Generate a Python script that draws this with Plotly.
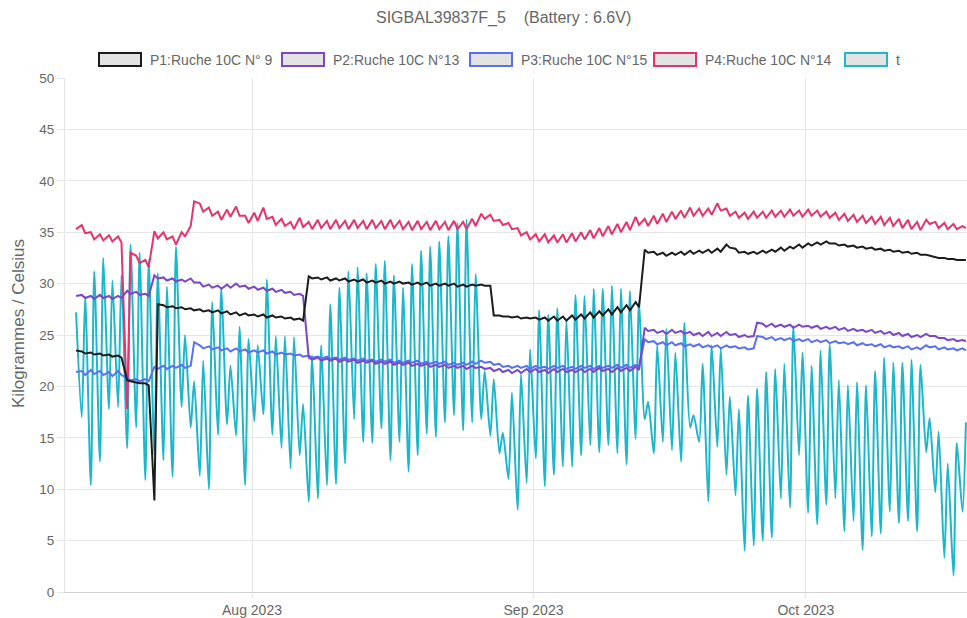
import plotly.graph_objects as go
from datetime import datetime, timedelta

# ---------------- data ----------------
TITLE = "SIGBAL39837F_5\u00a0\u00a0\u00a0\u00a0(Battery : 6.6V)"
Y_TITLE = "Kilogrammes / Celsius"
SERIES_NAMES = ["P1:Ruche 10C N° 9", "P2:Ruche 10C N°13", "P3:Ruche 10C N°15", "P4:Ruche 10C N°14", "t"]
X_TICK_DATES = ["2023-08-01", "2023-09-01", "2023-10-01"]
X_TICK_TEXT = ["Aug 2023", "Sep 2023", "Oct 2023"]
START_DAY = "2023-07-12"   # first day of data; two readings a day (06:00, 15:00)

# temperature: afternoon maxima (day 0..98) and morning minima (day 1..98)
T_MAX = [27.2, 28.7, 31.2, 32.5, 30.3, 30.8, 33.8, 33.0, 32.3, 31.0,
         29.7, 33.6, 25.0, 20.5, 22.5, 28.2, 29.6, 22.0, 25.8, 24.6,
         24.0, 30.4, 24.9, 24.9, 24.8, 18.3, 23.0, 24.0, 28.0, 29.6,
         31.2, 31.6, 31.0, 31.9, 32.2, 30.8, 29.6, 31.9, 33.2, 33.6,
         34.1, 34.6, 35.9, 36.2, 30.9, 21.5, 20.7, 15.5, 19.4, 21.2,
         23.6, 27.4, 27.0, 27.6, 26.5, 28.9, 28.8, 29.5, 29.5, 29.8,
         29.5, 29.3, 28.3, 18.5, 24.0, 25.6, 23.3, 26.2, 17.2, 22.2,
         24.0, 23.7, 19.0, 17.8, 19.1, 19.8, 21.4, 21.7, 22.2, 25.9,
         23.3, 22.0, 23.5, 24.1, 20.6, 20.1, 20.4, 20.1, 21.5, 22.8,
         22.3, 22.3, 22.6, 22.1, 16.9, 15.6, 12.5, 14.5, 16.5]
T_MIN = [17.0, 10.4, 12.7, 17.8, 18.0, 14.0, 16.0, 10.9, 13.3, 12.8,
         11.2, 18.0, 16.0, 11.3, 10.0, 15.3, 16.3, 15.2, 10.4, 16.6,
         17.3, 15.3, 14.0, 12.0, 13.3, 8.8, 9.1, 10.4, 10.5, 12.5,
         16.8, 14.6, 14.5, 15.9, 12.8, 14.6, 11.7, 13.3, 15.4, 15.1,
         16.5, 17.2, 15.7, 16.5, 16.8, 15.2, 13.5, 11.0, 8.0, 10.6,
         13.0, 10.3, 11.4, 12.2, 12.2, 13.3, 14.3, 13.6, 14.3, 13.5,
         12.4, 14.9, 16.8, 13.5, 14.6, 13.8, 12.7, 16.0, 14.6, 8.8,
         14.1, 11.4, 9.4, 4.0, 4.5, 5.0, 5.3, 9.1, 8.2, 13.3,
         7.7, 6.6, 8.5, 9.1, 5.9, 6.9, 4.1, 5.4, 5.7, 7.8,
         6.7, 6.9, 5.9, 13.6, 9.7, 3.3, 1.6, 7.8]

# hive weights: day 0 afternoon, then (morning, afternoon) for days 1..98
P1 = [23.5,
      23.4, 23.2, 23.3, 23.1, 23.2, 23.0, 23.1, 22.9, 23.0, 22.8,
      20.6, 20.5, 20.4, 20.3, 20.3, 20.1, 8.9, 28.0, 27.9, 27.7,
      27.8, 27.6, 27.7, 27.5, 27.6, 27.4, 27.5, 27.3, 27.4, 27.2,
      27.4, 27.1, 27.3, 27.0, 27.2, 26.9, 27.1, 26.9, 27.0, 26.8,
      27.0, 26.7, 26.9, 26.7, 26.8, 26.6, 26.7, 26.5, 26.6, 26.4,
      30.7, 30.5, 30.6, 30.4, 30.6, 30.3, 30.5, 30.3, 30.5, 30.2,
      30.4, 30.2, 30.4, 30.1, 30.3, 30.1, 30.3, 30.0, 30.2, 30.0,
      30.2, 30.0, 30.1, 29.9, 30.1, 29.9, 30.1, 29.8, 30.0, 29.8,
      30.0, 29.8, 30.0, 29.7, 29.9, 29.7, 29.9, 29.8, 29.9, 29.8,
      29.8, 26.9, 26.9, 26.8, 26.8, 26.7, 26.8, 26.6, 26.7, 26.6,
      26.7, 26.5, 26.7, 26.4, 26.8, 26.4, 26.8, 26.4, 26.9, 26.5,
      27.0, 26.6, 27.2, 26.7, 27.3, 26.9, 27.5, 27.0, 27.7, 27.2,
      27.9, 27.4, 28.2, 27.7, 33.3, 33.0, 33.1, 32.8, 33.0, 32.7,
      33.0, 32.8, 33.1, 32.8, 33.2, 32.9, 33.2, 33.0, 33.3, 33.0,
      33.4, 33.1, 33.8, 33.5, 33.4, 33.0, 33.1, 32.9, 33.1, 32.9,
      33.2, 33.0, 33.3, 33.1, 33.5, 33.2, 33.6, 33.4, 33.8, 33.5,
      33.9, 33.7, 34.0, 33.8, 34.1, 33.9, 33.9, 33.7, 33.8, 33.6,
      33.7, 33.5, 33.6, 33.4, 33.5, 33.3, 33.4, 33.2, 33.3, 33.1,
      33.2, 33.0, 33.1, 32.9, 33.0, 32.8, 32.8, 32.7, 32.6, 32.5,
      32.5, 32.4, 32.4, 32.3, 32.3, 32.3]
P2 = [28.8,
      28.9, 28.6, 28.8, 28.5, 28.9, 28.6, 28.8, 28.5, 28.8, 28.6,
      29.3, 29.0, 29.2, 28.9, 29.0, 28.8, 30.8, 30.5, 30.6, 30.3,
      30.5, 30.2, 30.4, 30.2, 30.5, 30.1, 30.1, 29.7, 29.9, 29.6,
      29.8, 29.5, 29.9, 29.6, 30.0, 29.7, 29.8, 29.5, 29.7, 29.4,
      29.6, 29.3, 29.5, 29.2, 29.4, 29.1, 29.2, 28.9, 29.0, 28.8,
      22.8, 22.6, 22.8, 22.5, 22.7, 22.5, 22.7, 22.4, 22.6, 22.4,
      22.6, 22.3, 22.5, 22.3, 22.5, 22.2, 22.4, 22.2, 22.4, 22.1,
      22.3, 22.1, 22.3, 22.0, 22.2, 22.0, 22.2, 21.9, 22.1, 21.9,
      22.1, 21.8, 22.0, 21.8, 22.0, 21.7, 22.0, 21.8, 21.9, 21.7,
      21.8, 21.5, 21.7, 21.4, 21.6, 21.3, 21.6, 21.3, 21.7, 21.4,
      21.7, 21.4, 21.6, 21.3, 21.7, 21.4, 21.7, 21.4, 21.6, 21.4,
      21.7, 21.4, 21.7, 21.4, 21.8, 21.5, 21.7, 21.4, 21.8, 21.5,
      21.8, 21.5, 21.9, 21.6, 25.7, 25.4, 25.5, 25.2, 25.4, 25.1,
      25.5, 25.2, 25.4, 25.1, 25.3, 25.0, 25.2, 24.9, 25.3, 24.9,
      25.2, 24.9, 25.3, 25.0, 25.1, 24.8, 25.0, 24.8, 24.9, 26.2,
      26.1, 25.8, 26.1, 25.8, 26.0, 25.8, 26.0, 25.7, 26.0, 25.8,
      25.9, 25.7, 25.9, 25.6, 25.8, 25.6, 25.8, 25.5, 25.7, 25.4,
      25.6, 25.4, 25.5, 25.3, 25.5, 25.2, 25.4, 25.1, 25.3, 25.0,
      25.2, 24.9, 25.1, 24.8, 25.0, 24.8, 25.1, 24.9, 24.9, 24.7,
      24.7, 24.5, 24.6, 24.4, 24.5, 24.4]
P3 = [21.4,
      21.5, 21.1, 21.6, 21.2, 21.5, 21.1, 21.4, 21.0, 21.5, 21.1,
      20.8, 20.6, 20.7, 20.5, 20.7, 20.5, 21.9, 21.7, 22.0, 21.7,
      22.0, 21.8, 22.1, 21.8, 22.0, 24.3, 24.0, 23.7, 23.9, 23.6,
      23.8, 23.5, 23.7, 23.4, 23.7, 23.4, 23.6, 23.3, 23.5, 23.3,
      23.5, 23.2, 23.4, 23.1, 23.3, 23.1, 23.2, 23.0, 23.1, 22.9,
      23.0, 22.8, 22.9, 22.7, 22.9, 22.7, 22.8, 22.6, 22.8, 22.6,
      22.7, 22.5, 22.7, 22.5, 22.6, 22.4, 22.6, 22.4, 22.6, 22.3,
      22.5, 22.3, 22.5, 22.3, 22.5, 22.2, 22.4, 22.2, 22.4, 22.2,
      22.4, 22.1, 22.3, 22.1, 22.3, 22.1, 22.4, 22.2, 22.5, 22.3,
      22.4, 22.1, 22.2, 21.9, 22.0, 21.8, 22.0, 21.8, 22.0, 21.7,
      22.0, 21.8, 21.9, 21.7, 22.0, 21.8, 22.0, 21.7, 21.9, 21.7,
      22.0, 21.8, 22.0, 21.7, 22.0, 21.8, 22.0, 21.8, 22.1, 21.8,
      22.1, 21.8, 22.1, 21.9, 24.6, 24.3, 24.4, 24.1, 24.3, 24.0,
      24.3, 24.0, 24.2, 23.9, 24.1, 23.9, 24.1, 23.8, 24.0, 23.8,
      24.0, 23.7, 24.0, 23.8, 23.9, 23.7, 23.8, 23.6, 23.7, 24.9,
      24.8, 24.6, 24.8, 24.5, 24.7, 24.5, 24.7, 24.4, 24.6, 24.4,
      24.6, 24.3, 24.5, 24.3, 24.5, 24.2, 24.4, 24.2, 24.3, 24.1,
      24.3, 24.0, 24.2, 24.0, 24.1, 23.9, 24.1, 23.8, 24.0, 23.8,
      23.9, 23.7, 23.9, 23.6, 23.8, 23.6, 24.0, 23.8, 23.9, 23.6,
      23.8, 23.6, 23.7, 23.5, 23.7, 23.5]
P4 = [35.3,
      35.7, 34.9, 35.0, 34.3, 34.8, 34.2, 34.7, 34.1, 34.6, 34.0,
      17.8, 33.0, 32.7, 32.0, 32.3, 31.6, 35.1, 34.4, 35.0, 34.3,
      34.6, 33.8, 35.0, 34.6, 35.6, 38.0, 37.8, 37.0, 37.4, 36.6,
      37.0, 36.2, 37.2, 36.5, 37.5, 36.6, 36.6, 35.9, 36.9, 36.1,
      37.4, 36.3, 36.5, 35.7, 36.3, 35.6, 36.0, 35.3, 36.4, 35.5,
      36.0, 35.3, 36.2, 35.4, 36.1, 35.3, 36.2, 35.4, 36.1, 35.3,
      36.2, 35.4, 36.1, 35.3, 36.2, 35.4, 36.1, 35.3, 36.2, 35.4,
      36.1, 35.3, 36.0, 35.2, 36.1, 35.3, 36.0, 35.2, 36.1, 35.3,
      36.0, 35.2, 36.1, 35.3, 36.0, 35.3, 36.3, 35.6, 36.8, 36.3,
      36.7, 36.1, 36.2, 35.7, 35.9, 35.3, 35.4, 34.7, 35.0, 34.3,
      34.8, 34.1, 34.8, 34.0, 34.7, 34.0, 34.8, 34.0, 34.9, 34.1,
      35.0, 34.3, 35.2, 34.4, 35.4, 34.6, 35.6, 34.8, 35.8, 35.0,
      36.0, 35.2, 36.5, 35.7, 36.3, 35.6, 36.6, 35.8, 36.8, 36.0,
      37.0, 36.3, 37.1, 36.4, 37.4, 36.6, 37.3, 36.6, 37.3, 36.7,
      37.8, 37.1, 37.3, 36.6, 37.0, 36.4, 36.9, 36.3, 37.0, 36.4,
      37.0, 36.4, 37.1, 36.5, 37.1, 36.5, 37.2, 36.6, 37.1, 36.5,
      37.2, 36.6, 37.1, 36.5, 37.0, 36.4, 36.9, 36.2, 36.8, 36.1,
      36.7, 36.0, 36.6, 35.9, 36.5, 35.8, 36.5, 35.7, 36.4, 35.6,
      36.3, 35.4, 36.2, 35.3, 36.0, 35.2, 36.2, 35.8, 36.0, 35.4,
      35.9, 35.3, 35.8, 35.3, 35.6, 35.4]

# ---------------- build ----------------
start = datetime.fromisoformat(START_DAY)
times = [start + timedelta(hours=15)]
t_vals = [T_MAX[0]]
for k in range(1, len(T_MAX)):
    d = start + timedelta(days=k)
    times += [d + timedelta(hours=6), d + timedelta(hours=15)]
    t_vals += [T_MIN[k - 1], T_MAX[k]]

COLORS = ["#1c1c1c", "#7a47c9", "#5b70ee", "#e6336b", "#1db7cc"]
FONT = "Liberation Sans, Arial, Helvetica, sans-serif"
TXT = "#666666"

fig = go.Figure()
fig.add_trace(go.Scatter(x=times, y=t_vals, name=SERIES_NAMES[4], mode="lines",
                         line=dict(color=COLORS[4], width=2, shape="spline", smoothing=0.7)))
fig.add_trace(go.Scatter(x=times, y=P4, name=SERIES_NAMES[3], mode="lines",
                         line=dict(color=COLORS[3], width=2)))
fig.add_trace(go.Scatter(x=times, y=P3, name=SERIES_NAMES[2], mode="lines",
                         line=dict(color=COLORS[2], width=2)))
fig.add_trace(go.Scatter(x=times, y=P2, name=SERIES_NAMES[1], mode="lines",
                         line=dict(color=COLORS[1], width=2)))
fig.add_trace(go.Scatter(x=times, y=P1, name=SERIES_NAMES[0], mode="lines",
                         line=dict(color=COLORS[0], width=2)))

# layout geometry in page pixels (body margin removed below)
W, H = 967, 618
PLOT_L, PLOT_R, PLOT_T, PLOT_B = 65, 967, 78, 594
L, R, T, B = PLOT_L, W - PLOT_R, PLOT_T, H - PLOT_B
pw, ph = W - L - R, H - T - B
def px_x(px): return (px - L) / pw
def px_y(py): return (H - B - py) / ph

aug1 = datetime(2023, 8, 1)
AUG1_PX, PX_PER_DAY = 252, 9.08
x0 = aug1 - timedelta(days=(AUG1_PX - PLOT_L) / PX_PER_DAY)
x1 = aug1 + timedelta(days=(PLOT_R - AUG1_PX) / PX_PER_DAY)

shapes, annotations = [], []
BOX_LEFT = [99, 282, 470, 654, 845]
for i, name in enumerate(SERIES_NAMES):
    bx = BOX_LEFT[i]
    shapes.append(dict(type="rect", xref="paper", yref="paper",
                       x0=px_x(bx), x1=px_x(bx + 42), y0=px_y(66), y1=px_y(53),
                       fillcolor="#e3e3e3", line=dict(color=COLORS[i], width=2)))
    annotations.append(dict(xref="paper", yref="paper", x=px_x(bx + 49), y=px_y(59.5),
                            xanchor="left", yanchor="middle", showarrow=False, text=name,
                            font=dict(family=FONT, size=14, color=TXT)))
annotations.append(dict(xref="paper", yref="paper", x=px_x(503), y=px_y(18),
                        xanchor="center", yanchor="middle", showarrow=False, text=TITLE,
                        font=dict(family=FONT, size=16, color=TXT)))
annotations.append(dict(xref="paper", yref="paper", x=px_x(18), y=px_y(325),
                        xanchor="center", yanchor="middle", showarrow=False, text=Y_TITLE,
                        textangle=-90, font=dict(family=FONT, size=17, color=TXT)))

fig.update_layout(
    width=W, height=H, margin=dict(l=L, r=R, t=T, b=B),
    paper_bgcolor="white", plot_bgcolor="white",
    showlegend=False, shapes=shapes, annotations=annotations,
    font=dict(family=FONT, size=13, color=TXT),
    xaxis=dict(type="date", range=[x0, x1], tickmode="array",
               tickvals=X_TICK_DATES, ticktext=X_TICK_TEXT,
               showgrid=True, gridcolor="#e6e6e6", gridwidth=1,
               showline=True, linecolor="#d0d0d0", linewidth=1,
               ticks="outside", ticklen=5, tickcolor="#e6e6e6",
               tickfont=dict(family=FONT, size=14, color=TXT), zeroline=False),
    yaxis=dict(range=[0, 50], dtick=5, tick0=0,
               showgrid=True, gridcolor="#e6e6e6", gridwidth=1,
               showline=True, linecolor="#e6e6e6", linewidth=1,
               ticks="outside", ticklen=7, tickcolor="#e6e6e6",
               tickfont=dict(family=FONT, size=13.5, color=TXT), zeroline=False),
)

fig.write_html("out.html",
               config={"displayModeBar": False},
               post_script="document.body.style.margin='0px';"
                           "document.documentElement.style.overflow='hidden';")
